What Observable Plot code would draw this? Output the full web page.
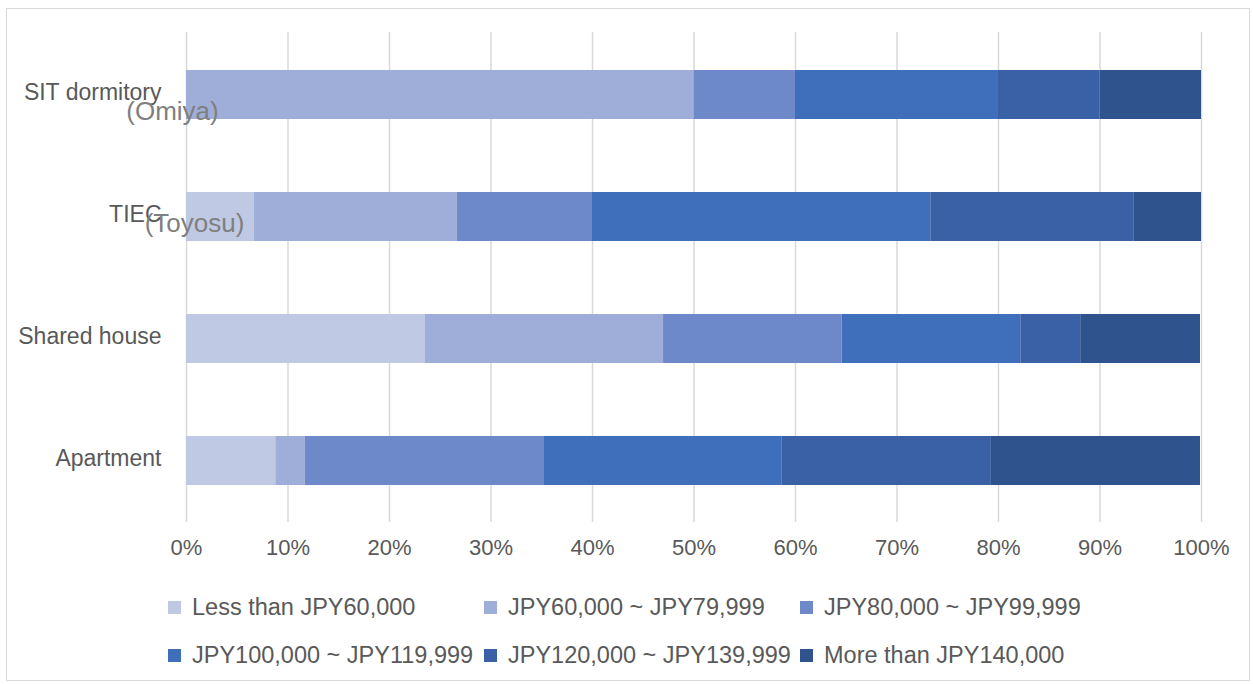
<!DOCTYPE html>
<html>
<head>
<meta charset="utf-8">
<script src="https://cdn.jsdelivr.net/npm/d3@7"></script>
<script src="https://cdn.jsdelivr.net/npm/@observablehq/plot@0.6"></script>
<style>
  html, body { margin: 0; padding: 0; background: #fff; }
  body { width: 1253px; height: 684px; position: relative; overflow: hidden; font-family: "Liberation Sans", Arial, sans-serif; }
  #frame { position: absolute; left: 6px; top: 8px; width: 1244px; height: 673px; border: 1px solid #d9d9d9; box-sizing: border-box; }
  #chart { position: absolute; left: 0; top: 0; }
  #legend { position: absolute; left: 168px; top: 583px; }
  .row { display: flex; height: 48px; align-items: center; }
  .item { width: 316px; display: flex; align-items: center; font-size: 23.5px; color: #595959; white-space: nowrap; }
  .sw { width: 13px; height: 13px; margin-right: 11px; flex: none; }
</style>
</head>
<body>
<div id="frame"></div>
<div id="chart"></div>
<div id="legend"></div>
<script>
const categories = ["SIT dormitory", "TIEC", "Shared house", "Apartment"];
const subLabels = ["(Omiya)", "(Toyosu)", "", ""];
const series = [
  "Less than JPY60,000",
  "JPY60,000 ~ JPY79,999",
  "JPY80,000 ~ JPY99,999",
  "JPY100,000 ~ JPY119,999",
  "JPY120,000 ~ JPY139,999",
  "More than JPY140,000"
];
const colors = ["#BFC9E3", "#9FAED8", "#6E89CA", "#3F6EBB", "#3A60A5", "#2E538D"];
const sitDormitory = [0, 50, 10, 20, 10, 10];
const tiec = [6.67, 20, 13.33, 33.33, 20, 6.67];
const sharedHouse = [23.5, 23.5, 17.6, 17.6, 5.9, 11.8];
const apartment = [8.8, 2.9, 23.5, 23.5, 20.6, 20.6];
const xTicks = [0, 10, 20, 30, 40, 50, 60, 70, 80, 90, 100];

const valuesByCategory = [sitDormitory, tiec, sharedHouse, apartment];
const rows = [];
categories.forEach((c, i) => {
  series.forEach((s, j) => rows.push({category: c, series: s, value: valuesByCategory[i][j]}));
});
const subRows = categories.map((c, i) => ({category: c, label: subLabels[i]}));

const plot = Plot.plot({
  width: 1253,
  height: 584,
  marginLeft: 186,
  marginRight: 52,
  marginTop: 32,
  marginBottom: 62,
  style: {fontFamily: "'Liberation Sans', Arial, sans-serif", color: "#595959", background: "transparent"},
  x: {domain: [0, 100], ticks: xTicks, tickFormat: d => d + "%"},
  y: {domain: categories, paddingInner: 0.6, paddingOuter: 0.3},
  color: {domain: series, range: colors},
  marks: [
    Plot.gridX(xTicks, {stroke: "#d9d9d9", strokeOpacity: 1, strokeWidth: 1.5}),
    Plot.barX(rows, {x: "value", y: "category", fill: "series", order: series}),
    Plot.axisX({ticks: xTicks, tickFormat: d => d + "%", tickSize: 0, tickPadding: 17, fontSize: 22, fill: "#595959", label: null}),
    Plot.axisY({tickSize: 0, tickPadding: 25, fontSize: 23, fill: "#595959", label: null, dy: -2}),
    Plot.text(subRows.filter(d => d.label === "(Omiya)"), {y: "category", text: "label", frameAnchor: "left", textAnchor: "middle", dx: -14, dy: 17, fontSize: 26, fill: "#7f7f7f"}),
    Plot.text(subRows.filter(d => d.label === "(Toyosu)"), {y: "category", text: "label", frameAnchor: "left", textAnchor: "middle", dx: 8, dy: 7, fontSize: 26, fill: "#7f7f7f"})
  ]
});
document.getElementById("chart").appendChild(plot);

const legend = document.getElementById("legend");
for (let r = 0; r < 2; r++) {
  const row = document.createElement("div");
  row.className = "row";
  for (let c = 0; c < 3; c++) {
    const k = r * 3 + c;
    const item = document.createElement("div");
    item.className = "item";
    const sw = document.createElement("span");
    sw.className = "sw";
    sw.style.background = colors[k];
    const tx = document.createElement("span");
    tx.textContent = series[k];
    item.appendChild(sw);
    item.appendChild(tx);
    row.appendChild(item);
  }
  legend.appendChild(row);
}
</script>
</body>
</html>
